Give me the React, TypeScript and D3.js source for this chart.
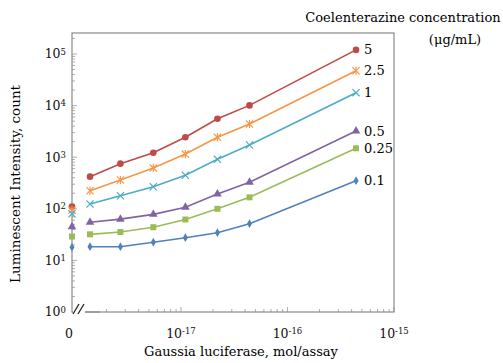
import * as d3 from 'd3';

// x values (mol/assay) of the non-zero points
const xVals = [1.4e-18, 2.7e-18, 5.5e-18, 1.1e-17, 2.2e-17, 4.4e-17, 4.4e-16];

const concLabels = ['5', '2.5', '1', '0.5', '0.25', '0.1'];
const zeroVals = [110, 95, 80, 45, 29, 18];
const s5 = [420, 750, 1220, 2430, 5570, 10100, 120000];
const s25 = [224, 361, 620, 1150, 2430, 4400, 47400];
const s1 = [124, 179, 268, 447, 910, 1720, 17800];
const s05 = [55, 63, 78, 107, 194, 326, 3220];
const s025 = [32, 35.5, 44, 62, 100, 167, 1490];
const s01 = [18.4, 18.4, 22.5, 27.5, 34.4, 51.5, 351];

const seriesVals = [s5, s25, s1, s05, s025, s01];
const colors = ['#BE4B48', '#F79646', '#4BACC6', '#8064A2', '#9BBB59', '#4F81BD'];
const markers = ['circle', 'star', 'x', 'triangle', 'square', 'diamond'];

const yTickExps = [0, 1, 2, 3, 4, 5];
const xTickExps = [-17, -16, -15];

const W = 503;
const H = 363;
const left = 72, right = 394, top = 33, bottom = 312;
const font = '"DejaVu Serif", serif';

const x = d3.scaleLog().domain([Math.pow(10, -18.023), 1e-15]).range([left, right]);
const y = d3.scaleLog().domain([1, Math.pow(10, 5.407)]).range([bottom, top]);

function Marker({ type, cx, cy, color }: { type: string; cx: number; cy: number; color: string }) {
  const t = `translate(${cx},${cy})`;
  if (type === 'circle') return <circle cx={cx} cy={cy} r={3.3} fill={color} />;
  if (type === 'square') return <path transform={t} d={d3.symbol(d3.symbolSquare, 36)()!} fill={color} />;
  if (type === 'triangle') return <path transform={t} d={d3.symbol(d3.symbolTriangle, 32)()!} fill={color} />;
  if (type === 'diamond') return <path transform={t} d={d3.symbol(d3.symbolDiamond, 22)()!} fill={color} />;
  const s = 3.6;
  return (
    <g transform={t} stroke={color} strokeWidth={1.2}>
      <line x1={-s} y1={-s} x2={s} y2={s} />
      <line x1={-s} y1={s} x2={s} y2={-s} />
      {type === 'star' && <line x1={0} y1={-s - 0.5} x2={0} y2={s + 0.5} />}
    </g>
  );
}

export default function App() {
  const line = d3.line<number>().x((_, i) => x(xVals[i])).y(d => y(d));

  const yMinor: number[] = [];
  for (let e = 0; e < 6; e++) for (let m = 2; m <= 9; m++) {
    const v = m * Math.pow(10, e);
    if (y(v) >= top) yMinor.push(v);
  }
  const xMinor: number[] = [];
  for (let e = -18; e < -15; e++) for (let m = 2; m <= 9; m++) xMinor.push(m * Math.pow(10, e));

  return (
    <svg width={W} height={H} style={{ position: 'absolute', left: 0, top: 0, background: '#fff' }} fontFamily={font}>
      {/* ticks */}
      <g stroke="#999" strokeWidth={0.8}>
        {yMinor.map((v, i) => <line key={'ym' + i} x1={left} x2={left + 3} y1={y(v)} y2={y(v)} />)}
        {yTickExps.map(e => <line key={'yM' + e} x1={left} x2={left + 5} y1={y(Math.pow(10, e))} y2={y(Math.pow(10, e))} />)}
        {xMinor.map((v, i) => <line key={'xm' + i} x1={x(v)} x2={x(v)} y1={bottom} y2={bottom - 3} />)}
        {xTickExps.map(e => <line key={'xM' + e} x1={x(Math.pow(10, e))} x2={x(Math.pow(10, e))} y1={bottom} y2={bottom - 5} />)}
      </g>
      <rect x={left} y={top} width={right - left} height={bottom - top} fill="none" stroke="#8a8a8a" strokeWidth={1.2} />

      {/* axis break */}
      <rect x={73} y={304} width={12} height={10} fill="#fff" />
      <g stroke="#222" strokeWidth={1.3}>
        <line x1={73} y1={314} x2={79} y2={304} />
        <line x1={78} y1={314} x2={84} y2={304} />
      </g>
      <line x1={85} x2={100} y1={bottom} y2={bottom} stroke="#8a8a8a" strokeWidth={1.2} />

      {/* series */}
      {seriesVals.map((vals, si) => (
        <g key={si}>
          <path d={line(vals)!} fill="none" stroke={colors[si]} strokeWidth={1.6} />
          {vals.map((v, i) => <Marker key={i} type={markers[si]} cx={x(xVals[i])} cy={y(v)} color={colors[si]} />)}
          <Marker type={markers[si]} cx={left} cy={y(zeroVals[si])} color={colors[si]} />
          <text x={x(xVals[xVals.length - 1]) + 8} y={y(vals[vals.length - 1])} dy="0.35em" fontSize={13} fill="#000">
            {concLabels[si]}
          </text>
        </g>
      ))}

      {/* y tick labels */}
      {yTickExps.map(e => (
        <text key={e} x={66} y={y(Math.pow(10, e))} dy="0.35em" textAnchor="end" fontSize={12.5} fill="#111">
          10<tspan dy="-0.45em" fontSize={8.5}>{e}</tspan>
        </text>
      ))}

      {/* x tick labels */}
      <text x={69} y={338} textAnchor="middle" fontSize={12.5} fill="#111">0</text>
      {xTickExps.map(e => (
        <text key={e} x={x(Math.pow(10, e))} y={338} textAnchor="middle" fontSize={12.5} fill="#111">
          10<tspan dy="-0.45em" fontSize={8.5}>{e}</tspan>
        </text>
      ))}

      {/* axis titles */}
      <text x={241} y={356} textAnchor="middle" fontSize={13} fill="#000">Gaussia luciferase, mol/assay</text>
      <text transform="translate(20,184) rotate(-90)" textAnchor="middle" fontSize={13.5} fill="#000">
        Luminescent Intensity, count
      </text>
      <text x={403} y={22} textAnchor="middle" fontSize={13} fill="#000">Coelenterazine concentration</text>
      <text x={455} y={44} textAnchor="middle" fontSize={13} fill="#000">(μg/mL)</text>
    </svg>
  );
}
